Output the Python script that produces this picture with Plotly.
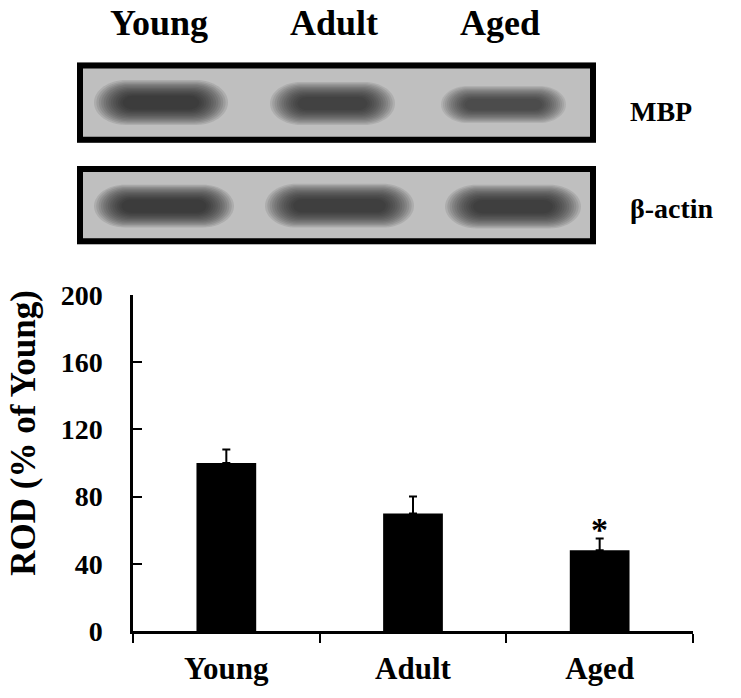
import plotly.graph_objects as go

# ---------------- data ----------------
categories = ["Young", "Adult", "Aged"]
means = [100, 70, 48]          # ROD (% of Young)
sems = [8, 10, 7]
significance = ["", "", "*"]
y_ticks = [0, 40, 80, 120, 160, 200]
blot_lanes = ["Young", "Adult", "Aged"]
blot_rows = ["MBP", "β-actin"]

FONT = "Times New Roman, Liberation Serif, serif"

# plot-area geometry (pixels) used to place decorative blot drawing
W, H = 741, 698
PL, PT, PW, PH = 133, 295, 560, 344


def px(x):
    return (x - PL) / PW


def py(y):
    return (PT + PH - y) / PH


def stadium(x0, x1, y0, y1, rx_factor=1.4):
    ry = (y1 - y0) / 2
    rx = min(ry * rx_factor, (x1 - x0) / 2)
    ym = (y0 + y1) / 2
    k = 0.5523
    pts = [
        ("M", [(x0 + rx, y0)]),
        ("L", [(x1 - rx, y0)]),
        ("C", [(x1 - rx + k * rx, y0), (x1, ym - k * ry), (x1, ym)]),
        ("C", [(x1, ym + k * ry), (x1 - rx + k * rx, y1), (x1 - rx, y1)]),
        ("L", [(x0 + rx, y1)]),
        ("C", [(x0 + rx - k * rx, y1), (x0, ym + k * ry), (x0, ym)]),
        ("C", [(x0, ym - k * ry), (x0 + rx - k * rx, y0), (x0 + rx, y0)]),
    ]
    s = ""
    for cmd, pp in pts:
        s += cmd + " " + " ".join(f"{px(a):.5f},{py(b):.5f}" for a, b in pp) + " "
    return s + "Z"


fig = go.Figure()
fig.add_trace(go.Bar(
    x=categories, y=means, width=0.32,
    marker=dict(color="black", line=dict(width=0)),
    error_y=dict(type="data", array=sems, arrayminus=[0] * len(sems),
                 symmetric=False, color="black", thickness=2, width=4),
    showlegend=False,
))

shapes = []
annotations = []

# ---------------- western blot drawing (decorative) ----------------
boxes = {"MBP": (77, 596, 57, 139), "β-actin": (77, 596, 163, 243)}
bands = {
    "MBP": [(94, 228, 75, 121, 0.11), (270, 395, 77, 121, 0.1), (441, 566, 81, 119, 0.092)],
    "β-actin": [(94, 234, 182, 226, 0.108), (265, 414, 181, 226, 0.104), (445, 581, 182, 227, 0.106)],
}
label_y = {"MBP": 107, "β-actin": 206}

for row in blot_rows:
    bx0, bx1, by0, by1 = boxes[row]
    shapes.append(dict(type="rect", xref="paper", yref="paper",
                       x0=px(bx0), x1=px(bx1), y0=py(by1), y1=py(by0),
                       fillcolor="#bfbfbf", line=dict(width=0)))
    for (x0, x1, y0, y1, a) in bands[row]:
        h2 = (y1 - y0) / 2
        n = 13
        for i in range(n):
            iy = i * h2 * 0.058
            ix = iy * 1.8
            shapes.append(dict(type="path", xref="paper", yref="paper",
                               path=stadium(x0 + ix, x1 - ix, y0 + iy, y1 - iy),
                               fillcolor=f"rgba(30,30,30,{a})", line=dict(width=0)))
    shapes.append(dict(type="rect", xref="paper", yref="paper",
                       x0=px(bx0 + 3), x1=px(bx1 - 3), y0=py(by1 - 3), y1=py(by0 + 3),
                       fillcolor="rgba(0,0,0,0)", line=dict(color="black", width=6)))
    annotations.append(dict(text=row, xref="paper", yref="paper", x=px(628), y=py(label_y[row]),
                            xanchor="left", yanchor="middle", showarrow=False,
                            font=dict(family=FONT, size=28, color="black", weight="bold")))

lane_centers = [159, 334, 500]
for lane, cx in zip(blot_lanes, lane_centers):
    annotations.append(dict(text=lane, xref="paper", yref="paper", x=px(cx), y=py(17),
                            xanchor="center", yanchor="middle", showarrow=False,
                            font=dict(family=FONT, size=36, color="black", weight="bold")))

# significance markers
for c, m, s, sig in zip(categories, means, sems, significance):
    if sig:
        annotations.append(dict(text=sig, x=c, y=m + s, xref="x", yref="y",
                                xanchor="center", yanchor="middle", yshift=9, showarrow=False,
                                font=dict(family=FONT, size=34, color="black", weight="bold")))

# y-axis title
annotations.append(dict(text="ROD (% of Young)", xref="paper", yref="paper",
                        x=px(24), y=py(436), textangle=-90, showarrow=False,
                        xanchor="center", yanchor="middle",
                        font=dict(family=FONT, size=35, color="black", weight="bold")))

fig.update_layout(
    width=W, height=H,
    margin=dict(l=PL, r=W - PL - PW, t=PT, b=H - PT - PH, pad=0),
    plot_bgcolor="white", paper_bgcolor="white",
    shapes=shapes, annotations=annotations,
)
fig.update_xaxes(
    type="category", range=[-0.5, 2.5], tickson="boundaries",
    ticks="outside", ticklen=9, tickwidth=2, tickcolor="black",
    showline=True, linewidth=2.5, linecolor="black",
    showgrid=False, zeroline=False, ticklabelstandoff=8,
    tickfont=dict(family=FONT, size=31, color="black", weight="bold"),
)
fig.update_yaxes(
    range=[0, 200], tickvals=y_ticks,
    ticks="inside", ticklen=9, tickwidth=2, tickcolor="black",
    showline=True, linewidth=2.5, linecolor="black",
    showgrid=False, zeroline=False, ticklabelstandoff=22,
    tickfont=dict(family=FONT, size=28, color="black", weight="bold"),
)

fig.write_html("out.html", config={"displayModeBar": False},
               post_script="document.body.style.margin='0';document.body.style.overflow='hidden';")
